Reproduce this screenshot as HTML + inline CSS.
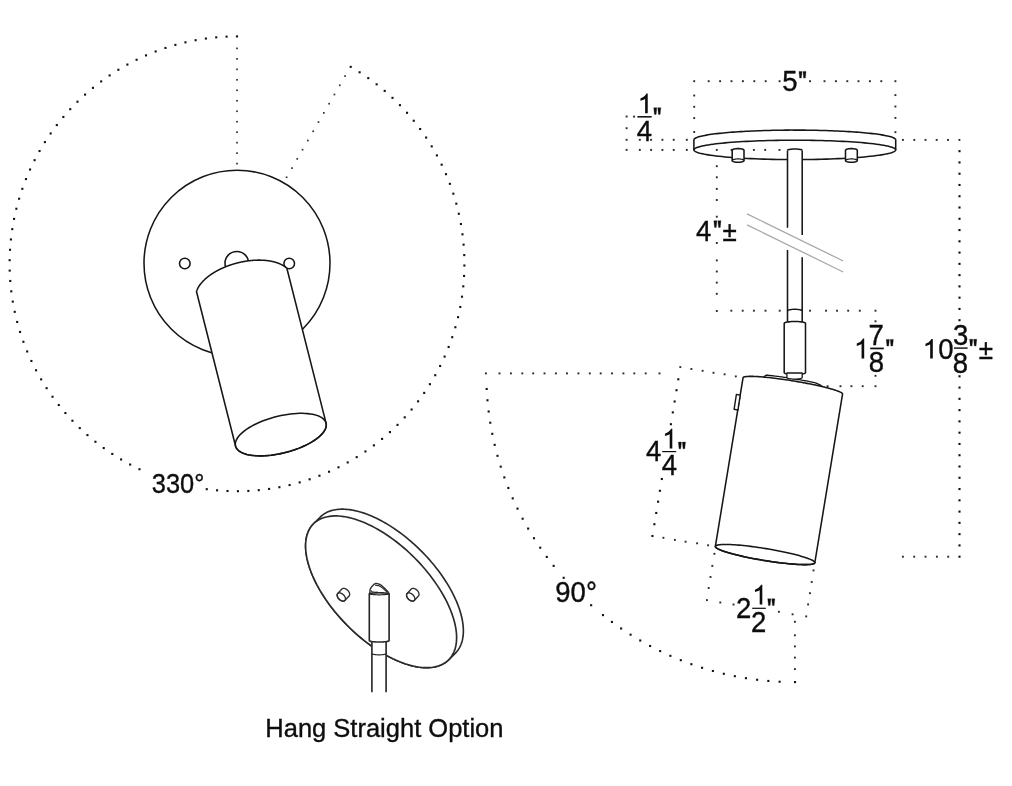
<!DOCTYPE html>
<html><head><meta charset="utf-8"><style>
html,body{margin:0;padding:0;background:#fff;}
svg{display:block;font-family:"Liberation Sans",sans-serif;will-change:transform;}
</style></head><body>
<svg width="1012" height="786" viewBox="0 0 1012 786">
<rect width="1012" height="786" fill="#fff"/>
<rect x="235.95" y="35.35" width="2.10" height="2.10" fill="#111"/>
<rect x="225.55" y="35.59" width="2.10" height="2.10" fill="#111"/>
<rect x="215.18" y="36.30" width="2.10" height="2.10" fill="#111"/>
<rect x="204.85" y="37.49" width="2.10" height="2.10" fill="#111"/>
<rect x="194.58" y="39.14" width="2.10" height="2.10" fill="#111"/>
<rect x="184.40" y="41.27" width="2.10" height="2.10" fill="#111"/>
<rect x="174.33" y="43.86" width="2.10" height="2.10" fill="#111"/>
<rect x="164.39" y="46.90" width="2.10" height="2.10" fill="#111"/>
<rect x="154.60" y="50.40" width="2.10" height="2.10" fill="#111"/>
<rect x="144.97" y="54.34" width="2.10" height="2.10" fill="#111"/>
<rect x="135.54" y="58.72" width="2.10" height="2.10" fill="#111"/>
<rect x="126.32" y="63.52" width="2.10" height="2.10" fill="#111"/>
<rect x="117.32" y="68.74" width="2.10" height="2.10" fill="#111"/>
<rect x="108.58" y="74.37" width="2.10" height="2.10" fill="#111"/>
<rect x="100.10" y="80.39" width="2.10" height="2.10" fill="#111"/>
<rect x="91.90" y="86.79" width="2.10" height="2.10" fill="#111"/>
<rect x="84.01" y="93.56" width="2.10" height="2.10" fill="#111"/>
<rect x="76.43" y="100.68" width="2.10" height="2.10" fill="#111"/>
<rect x="69.19" y="108.15" width="2.10" height="2.10" fill="#111"/>
<rect x="62.30" y="115.93" width="2.10" height="2.10" fill="#111"/>
<rect x="55.77" y="124.02" width="2.10" height="2.10" fill="#111"/>
<rect x="49.61" y="132.41" width="2.10" height="2.10" fill="#111"/>
<rect x="43.85" y="141.06" width="2.10" height="2.10" fill="#111"/>
<rect x="38.49" y="149.97" width="2.10" height="2.10" fill="#111"/>
<rect x="33.54" y="159.12" width="2.10" height="2.10" fill="#111"/>
<rect x="29.01" y="168.48" width="2.10" height="2.10" fill="#111"/>
<rect x="24.92" y="178.04" width="2.10" height="2.10" fill="#111"/>
<rect x="21.27" y="187.78" width="2.10" height="2.10" fill="#111"/>
<rect x="18.06" y="197.67" width="2.10" height="2.10" fill="#111"/>
<rect x="15.31" y="207.70" width="2.10" height="2.10" fill="#111"/>
<rect x="13.03" y="217.84" width="2.10" height="2.10" fill="#111"/>
<rect x="11.21" y="228.08" width="2.10" height="2.10" fill="#111"/>
<rect x="9.86" y="238.39" width="2.10" height="2.10" fill="#111"/>
<rect x="8.98" y="248.75" width="2.10" height="2.10" fill="#111"/>
<rect x="8.58" y="259.14" width="2.10" height="2.10" fill="#111"/>
<rect x="8.65" y="269.54" width="2.10" height="2.10" fill="#111"/>
<rect x="9.20" y="279.93" width="2.10" height="2.10" fill="#111"/>
<rect x="10.22" y="290.28" width="2.10" height="2.10" fill="#111"/>
<rect x="11.72" y="300.57" width="2.10" height="2.10" fill="#111"/>
<rect x="13.68" y="310.78" width="2.10" height="2.10" fill="#111"/>
<rect x="16.11" y="320.89" width="2.10" height="2.10" fill="#111"/>
<rect x="19.00" y="330.88" width="2.10" height="2.10" fill="#111"/>
<rect x="22.34" y="340.73" width="2.10" height="2.10" fill="#111"/>
<rect x="26.13" y="350.41" width="2.10" height="2.10" fill="#111"/>
<rect x="30.35" y="359.91" width="2.10" height="2.10" fill="#111"/>
<rect x="35.01" y="369.21" width="2.10" height="2.10" fill="#111"/>
<rect x="40.09" y="378.29" width="2.10" height="2.10" fill="#111"/>
<rect x="45.57" y="387.12" width="2.10" height="2.10" fill="#111"/>
<rect x="51.46" y="395.69" width="2.10" height="2.10" fill="#111"/>
<rect x="57.73" y="403.99" width="2.10" height="2.10" fill="#111"/>
<rect x="64.37" y="411.99" width="2.10" height="2.10" fill="#111"/>
<rect x="71.38" y="419.68" width="2.10" height="2.10" fill="#111"/>
<rect x="78.72" y="427.04" width="2.10" height="2.10" fill="#111"/>
<rect x="86.40" y="434.05" width="2.10" height="2.10" fill="#111"/>
<rect x="94.38" y="440.71" width="2.10" height="2.10" fill="#111"/>
<rect x="102.67" y="447.00" width="2.10" height="2.10" fill="#111"/>
<rect x="111.23" y="452.90" width="2.10" height="2.10" fill="#111"/>
<rect x="120.06" y="458.40" width="2.10" height="2.10" fill="#111"/>
<rect x="129.12" y="463.49" width="2.10" height="2.10" fill="#111"/>
<rect x="138.41" y="468.17" width="2.10" height="2.10" fill="#111"/>
<rect x="205.68" y="488.13" width="2.10" height="2.10" fill="#111"/>
<rect x="216.04" y="489.28" width="2.10" height="2.10" fill="#111"/>
<rect x="226.45" y="489.95" width="2.10" height="2.10" fill="#111"/>
<rect x="236.87" y="490.15" width="2.10" height="2.10" fill="#111"/>
<rect x="247.30" y="489.87" width="2.10" height="2.10" fill="#111"/>
<rect x="257.70" y="489.11" width="2.10" height="2.10" fill="#111"/>
<rect x="268.05" y="487.87" width="2.10" height="2.10" fill="#111"/>
<rect x="278.34" y="486.16" width="2.10" height="2.10" fill="#111"/>
<rect x="288.53" y="483.99" width="2.10" height="2.10" fill="#111"/>
<rect x="298.62" y="481.34" width="2.10" height="2.10" fill="#111"/>
<rect x="308.58" y="478.24" width="2.10" height="2.10" fill="#111"/>
<rect x="318.38" y="474.68" width="2.10" height="2.10" fill="#111"/>
<rect x="328.01" y="470.68" width="2.10" height="2.10" fill="#111"/>
<rect x="337.44" y="466.24" width="2.10" height="2.10" fill="#111"/>
<rect x="346.66" y="461.38" width="2.10" height="2.10" fill="#111"/>
<rect x="355.65" y="456.09" width="2.10" height="2.10" fill="#111"/>
<rect x="364.39" y="450.40" width="2.10" height="2.10" fill="#111"/>
<rect x="372.86" y="444.32" width="2.10" height="2.10" fill="#111"/>
<rect x="381.04" y="437.85" width="2.10" height="2.10" fill="#111"/>
<rect x="388.91" y="431.02" width="2.10" height="2.10" fill="#111"/>
<rect x="396.47" y="423.83" width="2.10" height="2.10" fill="#111"/>
<rect x="403.68" y="416.30" width="2.10" height="2.10" fill="#111"/>
<rect x="410.54" y="408.45" width="2.10" height="2.10" fill="#111"/>
<rect x="417.04" y="400.29" width="2.10" height="2.10" fill="#111"/>
<rect x="423.15" y="391.84" width="2.10" height="2.10" fill="#111"/>
<rect x="428.87" y="383.13" width="2.10" height="2.10" fill="#111"/>
<rect x="434.19" y="374.16" width="2.10" height="2.10" fill="#111"/>
<rect x="439.09" y="364.95" width="2.10" height="2.10" fill="#111"/>
<rect x="443.56" y="355.53" width="2.10" height="2.10" fill="#111"/>
<rect x="447.60" y="345.92" width="2.10" height="2.10" fill="#111"/>
<rect x="451.19" y="336.13" width="2.10" height="2.10" fill="#111"/>
<rect x="454.32" y="326.18" width="2.10" height="2.10" fill="#111"/>
<rect x="457.00" y="316.11" width="2.10" height="2.10" fill="#111"/>
<rect x="459.22" y="305.92" width="2.10" height="2.10" fill="#111"/>
<rect x="460.96" y="295.64" width="2.10" height="2.10" fill="#111"/>
<rect x="462.23" y="285.29" width="2.10" height="2.10" fill="#111"/>
<rect x="463.03" y="274.89" width="2.10" height="2.10" fill="#111"/>
<rect x="463.34" y="264.47" width="2.10" height="2.10" fill="#111"/>
<rect x="463.18" y="254.04" width="2.10" height="2.10" fill="#111"/>
<rect x="462.54" y="243.63" width="2.10" height="2.10" fill="#111"/>
<rect x="461.43" y="233.27" width="2.10" height="2.10" fill="#111"/>
<rect x="459.84" y="222.96" width="2.10" height="2.10" fill="#111"/>
<rect x="457.78" y="212.74" width="2.10" height="2.10" fill="#111"/>
<rect x="455.26" y="202.62" width="2.10" height="2.10" fill="#111"/>
<rect x="452.27" y="192.63" width="2.10" height="2.10" fill="#111"/>
<rect x="448.83" y="182.79" width="2.10" height="2.10" fill="#111"/>
<rect x="444.94" y="173.11" width="2.10" height="2.10" fill="#111"/>
<rect x="440.61" y="163.63" width="2.10" height="2.10" fill="#111"/>
<rect x="435.85" y="154.35" width="2.10" height="2.10" fill="#111"/>
<rect x="430.67" y="145.30" width="2.10" height="2.10" fill="#111"/>
<rect x="425.08" y="136.50" width="2.10" height="2.10" fill="#111"/>
<rect x="419.09" y="127.96" width="2.10" height="2.10" fill="#111"/>
<rect x="412.72" y="119.70" width="2.10" height="2.10" fill="#111"/>
<rect x="405.98" y="111.75" width="2.10" height="2.10" fill="#111"/>
<rect x="398.88" y="104.12" width="2.10" height="2.10" fill="#111"/>
<rect x="391.44" y="96.81" width="2.10" height="2.10" fill="#111"/>
<rect x="383.66" y="89.86" width="2.10" height="2.10" fill="#111"/>
<rect x="375.58" y="83.27" width="2.10" height="2.10" fill="#111"/>
<rect x="367.21" y="77.06" width="2.10" height="2.10" fill="#111"/>
<rect x="358.56" y="71.24" width="2.10" height="2.10" fill="#111"/>
<rect x="349.65" y="65.82" width="2.10" height="2.10" fill="#111"/>
<rect x="236.15" y="47.55" width="1.70" height="1.70" fill="#333"/>
<rect x="236.15" y="58.02" width="1.70" height="1.70" fill="#333"/>
<rect x="236.15" y="68.50" width="1.70" height="1.70" fill="#333"/>
<rect x="236.15" y="78.97" width="1.70" height="1.70" fill="#333"/>
<rect x="236.15" y="89.44" width="1.70" height="1.70" fill="#333"/>
<rect x="236.15" y="99.91" width="1.70" height="1.70" fill="#333"/>
<rect x="236.15" y="110.39" width="1.70" height="1.70" fill="#333"/>
<rect x="236.15" y="120.86" width="1.70" height="1.70" fill="#333"/>
<rect x="236.15" y="131.33" width="1.70" height="1.70" fill="#333"/>
<rect x="236.15" y="141.80" width="1.70" height="1.70" fill="#333"/>
<rect x="236.15" y="152.28" width="1.70" height="1.70" fill="#333"/>
<rect x="236.15" y="162.75" width="1.70" height="1.70" fill="#333"/>
<rect x="344.23" y="75.25" width="1.70" height="1.70" fill="#333"/>
<rect x="338.92" y="84.45" width="1.70" height="1.70" fill="#333"/>
<rect x="333.60" y="93.65" width="1.70" height="1.70" fill="#333"/>
<rect x="328.28" y="102.85" width="1.70" height="1.70" fill="#333"/>
<rect x="322.97" y="112.05" width="1.70" height="1.70" fill="#333"/>
<rect x="317.65" y="121.25" width="1.70" height="1.70" fill="#333"/>
<rect x="312.33" y="130.45" width="1.70" height="1.70" fill="#333"/>
<rect x="307.02" y="139.65" width="1.70" height="1.70" fill="#333"/>
<rect x="301.70" y="148.85" width="1.70" height="1.70" fill="#333"/>
<rect x="296.38" y="158.05" width="1.70" height="1.70" fill="#333"/>
<rect x="291.07" y="167.25" width="1.70" height="1.70" fill="#333"/>
<rect x="285.75" y="176.45" width="1.70" height="1.70" fill="#333"/>
<circle cx="237" cy="263.2" r="93" fill="none" stroke="#161616" stroke-width="1.55"/>
<circle cx="184.8" cy="263.5" r="5.3" fill="none" stroke="#161616" stroke-width="1.55"/>
<circle cx="289.2" cy="263.5" r="5.3" fill="none" stroke="#161616" stroke-width="1.55"/>
<circle cx="236.8" cy="263.2" r="11.8" fill="none" stroke="#161616" stroke-width="1.55"/>
<polygon points="196.47,291.50 196.51,291.38 196.54,291.26 196.58,291.14 196.62,291.02 196.67,290.90 196.71,290.79 196.75,290.67 196.80,290.55 196.84,290.43 196.89,290.31 196.93,290.19 196.98,290.07 197.03,289.95 197.08,289.83 197.13,289.72 197.18,289.60 197.23,289.48 197.29,289.36 197.34,289.24 197.39,289.12 197.45,289.00 197.51,288.88 197.56,288.76 197.62,288.64 197.68,288.52 197.74,288.40 197.80,288.28 197.87,288.16 197.93,288.04 197.99,287.92 198.06,287.80 198.12,287.69 198.19,287.57 198.25,287.45 198.32,287.33 198.39,287.21 198.46,287.09 198.53,286.97 198.60,286.85 198.67,286.73 198.75,286.61 198.82,286.49 198.90,286.37 198.97,286.25 199.05,286.13 199.13,286.01 199.20,285.89 199.28,285.77 199.36,285.65 199.44,285.53 199.53,285.42 199.61,285.30 199.69,285.18 199.78,285.06 199.86,284.94 199.95,284.82 200.03,284.70 200.12,284.58 200.21,284.46 200.30,284.34 200.39,284.23 200.48,284.11 200.57,283.99 200.66,283.87 200.76,283.75 200.85,283.63 200.94,283.51 201.04,283.40 201.14,283.28 201.23,283.16 201.33,283.04 201.43,282.92 201.53,282.81 201.63,282.69 201.73,282.57 201.83,282.45 201.94,282.34 202.04,282.22 202.14,282.10 202.25,281.98 202.36,281.87 202.46,281.75 202.57,281.63 202.68,281.52 202.79,281.40 202.90,281.28 203.01,281.17 203.12,281.05 203.23,280.93 203.35,280.82 203.46,280.70 203.57,280.59 203.69,280.47 203.81,280.36 203.92,280.24 204.04,280.13 204.16,280.01 204.28,279.90 204.40,279.78 204.52,279.67 204.64,279.55 204.76,279.44 204.89,279.32 205.01,279.21 205.13,279.10 205.26,278.98 205.38,278.87 205.51,278.76 205.64,278.64 205.77,278.53 205.89,278.42 206.02,278.30 206.15,278.19 206.29,278.08 206.42,277.97 206.55,277.85 206.68,277.74 206.82,277.63 206.95,277.52 207.09,277.41 207.22,277.30 207.36,277.19 207.49,277.08 207.63,276.97 207.77,276.86 207.91,276.75 208.05,276.64 208.19,276.53 208.33,276.42 208.47,276.31 208.62,276.20 208.76,276.09 208.90,275.98 209.05,275.87 209.19,275.76 209.34,275.66 209.49,275.55 209.63,275.44 209.78,275.33 209.93,275.23 210.08,275.12 210.23,275.01 210.38,274.91 210.53,274.80 210.68,274.70 210.84,274.59 210.99,274.49 211.14,274.38 211.30,274.28 211.45,274.17 211.61,274.07 211.76,273.96 211.92,273.86 212.08,273.76 212.23,273.65 212.39,273.55 212.55,273.45 212.71,273.34 212.87,273.24 213.03,273.14 213.19,273.04 213.36,272.94 213.52,272.84 213.68,272.74 213.85,272.63 214.01,272.53 214.17,272.43 214.34,272.34 214.51,272.24 214.67,272.14 214.84,272.04 215.01,271.94 215.18,271.84 215.34,271.74 215.51,271.65 215.68,271.55 215.85,271.45 216.02,271.35 216.20,271.26 216.37,271.16 216.54,271.07 216.71,270.97 216.89,270.88 217.06,270.78 217.24,270.69 217.41,270.59 217.59,270.50 217.76,270.41 217.94,270.31 218.12,270.22 218.29,270.13 218.47,270.03 218.65,269.94 218.83,269.85 219.01,269.76 219.19,269.67 219.37,269.58 219.55,269.49 219.73,269.40 219.91,269.31 220.09,269.22 220.28,269.13 220.46,269.04 220.64,268.95 220.83,268.87 221.01,268.78 221.20,268.69 221.38,268.61 221.57,268.52 221.75,268.43 221.94,268.35 222.13,268.26 222.31,268.18 222.50,268.09 222.69,268.01 222.88,267.93 223.07,267.84 223.26,267.76 223.45,267.68 223.64,267.59 223.83,267.51 224.02,267.43 224.21,267.35 224.40,267.27 224.59,267.19 224.78,267.11 224.98,267.03 225.17,266.95 225.36,266.87 225.56,266.79 225.75,266.72 225.95,266.64 226.14,266.56 226.34,266.48 226.53,266.41 226.73,266.33 226.92,266.26 227.12,266.18 227.32,266.11 227.51,266.03 227.71,265.96 227.91,265.88 228.11,265.81 228.31,265.74 228.50,265.67 228.70,265.59 228.90,265.52 229.10,265.45 229.30,265.38 229.50,265.31 229.70,265.24 229.90,265.17 230.10,265.10 230.30,265.03 230.50,264.97 230.71,264.90 230.91,264.83 231.11,264.76 231.31,264.70 231.51,264.63 231.72,264.57 231.92,264.50 232.12,264.44 232.33,264.37 232.53,264.31 232.73,264.25 232.94,264.18 233.14,264.12 233.35,264.06 233.55,264.00 233.76,263.94 233.96,263.88 234.17,263.82 234.37,263.76 234.58,263.70 234.78,263.64 234.99,263.58 235.20,263.52 235.40,263.46 235.61,263.41 235.81,263.35 236.02,263.30 236.23,263.24 236.43,263.18 236.64,263.13 236.85,263.08 237.06,263.02 237.26,262.97 237.47,262.92 237.68,262.86 237.89,262.81 238.10,262.76 238.30,262.71 238.51,262.66 238.72,262.61 238.93,262.56 239.14,262.51 239.35,262.46 239.55,262.41 239.76,262.37 239.97,262.32 240.18,262.27 240.39,262.23 240.60,262.18 240.81,262.14 241.02,262.09 241.23,262.05 241.43,262.00 241.64,261.96 241.85,261.92 242.06,261.87 242.27,261.83 242.48,261.79 242.69,261.75 242.90,261.71 243.11,261.67 243.32,261.63 243.53,261.59 243.74,261.55 243.95,261.52 244.16,261.48 244.37,261.44 244.58,261.41 244.79,261.37 244.99,261.33 245.20,261.30 245.41,261.27 245.62,261.23 245.83,261.20 246.04,261.17 246.25,261.13 246.46,261.10 246.67,261.07 246.88,261.04 247.09,261.01 247.30,260.98 247.50,260.95 247.71,260.92 247.92,260.89 248.13,260.86 248.34,260.84 248.55,260.81 248.76,260.78 248.96,260.76 249.17,260.73 249.38,260.71 249.59,260.68 249.80,260.66 250.00,260.64 250.21,260.61 250.42,260.59 250.63,260.57 250.83,260.55 251.04,260.53 251.25,260.51 251.45,260.49 251.66,260.47 251.87,260.45 252.07,260.43 252.28,260.42 252.49,260.40 252.69,260.38 252.90,260.37 253.10,260.35 253.31,260.34 253.51,260.32 253.72,260.31 253.92,260.29 254.13,260.28 254.33,260.27 254.54,260.26 254.74,260.25 254.94,260.23 255.15,260.22 255.35,260.21 255.55,260.20 255.76,260.20 255.96,260.19 256.16,260.18 256.36,260.17 256.57,260.17 256.77,260.16 256.97,260.15 257.17,260.15 257.37,260.14 257.57,260.14 257.77,260.14 257.97,260.13 258.17,260.13 258.37,260.13 258.57,260.13 258.77,260.13 258.97,260.13 259.17,260.13 259.36,260.13 259.56,260.13 259.76,260.13 259.96,260.13 260.15,260.14 260.35,260.14 260.55,260.14 260.74,260.15 260.94,260.15 261.13,260.16 261.33,260.16 261.52,260.17 261.72,260.18 261.91,260.18 262.11,260.19 262.30,260.20 262.49,260.21 262.68,260.22 262.88,260.23 263.07,260.24 263.26,260.25 263.45,260.26 263.64,260.27 263.83,260.29 264.02,260.30 264.21,260.31 264.40,260.33 264.59,260.34 264.78,260.36 264.97,260.37 265.15,260.39 265.34,260.41 265.53,260.42 265.71,260.44 265.90,260.46 266.09,260.48 266.27,260.50 266.46,260.52 266.64,260.54 266.82,260.56 267.01,260.58 267.19,260.60 267.37,260.62 267.55,260.65 267.74,260.67 267.92,260.69 268.10,260.72 268.28,260.74 268.46,260.77 268.64,260.79 268.82,260.82 268.99,260.85 269.17,260.88 269.35,260.90 269.53,260.93 269.70,260.96 269.88,260.99 270.05,261.02 270.23,261.05 270.40,261.08 270.58,261.11 270.75,261.15 270.92,261.18 271.09,261.21 271.27,261.25 271.44,261.28 271.61,261.31 271.78,261.35 271.95,261.38 272.12,261.42 272.29,261.46 272.45,261.49 272.62,261.53 272.79,261.57 272.95,261.61 273.12,261.65 273.29,261.69 273.45,261.73 273.61,261.77 273.78,261.81 273.94,261.85 274.10,261.89 274.26,261.93 274.43,261.98 274.59,262.02 274.75,262.06 274.91,262.11 275.06,262.15 275.22,262.20 275.38,262.25 275.54,262.29 275.69,262.34 275.85,262.39 276.01,262.43 276.16,262.48 276.31,262.53 276.47,262.58 276.62,262.63 276.77,262.68 276.92,262.73 277.07,262.78 277.22,262.83 277.37,262.88 277.52,262.94 277.67,262.99 277.82,263.04 277.97,263.10 278.11,263.15 278.26,263.21 278.40,263.26 278.55,263.32 278.69,263.37 278.83,263.43 278.98,263.49 279.12,263.55 279.26,263.60 279.40,263.66 279.54,263.72 279.68,263.78 279.82,263.84 279.96,263.90 280.09,263.96 280.23,264.02 280.36,264.08 280.50,264.15 280.63,264.21 280.77,264.27 280.90,264.34 281.03,264.40 281.16,264.46 281.29,264.53 281.42,264.59 281.55,264.66 281.68,264.73 281.81,264.79 281.94,264.86 282.06,264.93 282.19,264.99 282.31,265.06 282.44,265.13 282.56,265.20 282.68,265.27 282.80,265.34 282.93,265.41 283.05,265.48 283.17,265.55 283.28,265.62 283.40,265.70 283.52,265.77 283.64,265.84 283.75,265.91 283.87,265.99 283.98,266.06 284.10,266.14 284.21,266.21 284.32,266.29 284.43,266.36 284.54,266.44 284.65,266.52 284.76,266.59 284.87,266.67 284.98,266.75 285.08,266.83 285.19,266.90 285.29,266.98 285.40,267.06 285.50,267.14 285.60,267.22 285.70,267.30 285.81,267.38 285.91,267.46 286.01,267.55 286.10,267.63 286.20,267.71 286.30,267.79 286.40,267.88 286.49,267.96 286.58,268.04 286.68,268.13 286.77,268.21 286.86,268.30 326.07,423.14 326.25,424.10 326.30,425.08 326.23,426.09 326.03,427.12 325.71,428.18 325.26,429.25 324.69,430.33 324.00,431.43 323.20,432.53 322.28,433.65 321.24,434.76 320.09,435.87 318.84,436.98 317.48,438.09 316.02,439.18 314.47,440.26 312.82,441.33 311.08,442.38 309.26,443.40 307.37,444.40 305.40,445.38 303.36,446.32 301.26,447.24 299.11,448.12 296.90,448.96 294.65,449.76 292.36,450.52 290.05,451.24 287.70,451.91 285.34,452.53 282.96,453.11 280.58,453.63 278.20,454.11 275.83,454.52 273.47,454.89 271.13,455.20 268.81,455.45 266.53,455.64 264.29,455.78 262.09,455.86 259.95,455.88 257.86,455.84 255.84,455.75 253.88,455.59 252.00,455.38 250.19,455.11 248.47,454.79 246.84,454.41 245.30,453.98 243.86,453.49 242.52,452.95 241.29,452.36 240.16,451.72 239.15,451.04 238.24,450.31 237.46,449.53 236.79,448.72 236.25,447.87 235.83,446.98 235.53,446.06" fill="#fff" stroke="#161616" stroke-width="1.55" stroke-linejoin="round"/>
<polygon points="326.07,423.14 326.28,424.42 326.26,425.75 326.03,427.12 325.57,428.53 324.89,429.97 324.00,431.43 322.90,432.90 321.60,434.39 320.09,435.87 318.40,437.35 316.52,438.82 314.47,440.26 312.25,441.68 309.88,443.06 307.37,444.40 304.73,445.70 301.97,446.94 299.11,448.12 296.16,449.23 293.13,450.27 290.05,451.24 286.92,452.12 283.76,452.92 280.58,453.63 277.41,454.25 274.25,454.77 271.13,455.20 268.05,455.52 265.03,455.74 262.09,455.86 259.25,455.87 256.50,455.79 253.88,455.59 251.39,455.30 249.04,454.90 246.84,454.41 244.81,453.82 242.96,453.13 241.29,452.36 239.81,451.50 238.53,450.56 237.46,449.53 236.60,448.44 235.95,447.28 235.53,446.06 235.32,444.78 235.34,443.45 235.57,442.08 236.03,440.67 236.71,439.23 237.60,437.77 238.70,436.30 240.00,434.81 241.51,433.33 243.20,431.85 245.08,430.38 247.13,428.94 249.35,427.52 251.72,426.14 254.23,424.80 256.87,423.50 259.63,422.26 262.49,421.08 265.44,419.97 268.47,418.93 271.55,417.96 274.68,417.08 277.84,416.28 281.02,415.57 284.19,414.95 287.35,414.43 290.47,414.00 293.55,413.68 296.57,413.46 299.51,413.34 302.35,413.33 305.10,413.41 307.72,413.61 310.21,413.90 312.56,414.30 314.76,414.79 316.79,415.38 318.64,416.07 320.31,416.84 321.79,417.70 323.07,418.64 324.14,419.67 325.00,420.76 325.65,421.92 326.07,423.14" fill="none" stroke="#161616" stroke-width="1.55" stroke-linejoin="round"/>
<rect x="693.25" y="80.25" width="1.90" height="1.90" fill="#2a2a2a"/>
<rect x="707.75" y="80.25" width="1.90" height="1.90" fill="#2a2a2a"/>
<rect x="719.15" y="80.25" width="1.90" height="1.90" fill="#2a2a2a"/>
<rect x="730.55" y="80.25" width="1.90" height="1.90" fill="#2a2a2a"/>
<rect x="741.95" y="80.25" width="1.90" height="1.90" fill="#2a2a2a"/>
<rect x="753.35" y="80.25" width="1.90" height="1.90" fill="#2a2a2a"/>
<rect x="764.75" y="80.25" width="1.90" height="1.90" fill="#2a2a2a"/>
<rect x="778.65" y="80.25" width="1.90" height="1.90" fill="#2a2a2a"/>
<rect x="809.05" y="80.25" width="1.90" height="1.90" fill="#2a2a2a"/>
<rect x="823.55" y="80.25" width="1.90" height="1.90" fill="#2a2a2a"/>
<rect x="834.95" y="80.25" width="1.90" height="1.90" fill="#2a2a2a"/>
<rect x="846.35" y="80.25" width="1.90" height="1.90" fill="#2a2a2a"/>
<rect x="857.55" y="80.25" width="1.90" height="1.90" fill="#2a2a2a"/>
<rect x="868.95" y="80.25" width="1.90" height="1.90" fill="#2a2a2a"/>
<rect x="880.35" y="80.25" width="1.90" height="1.90" fill="#2a2a2a"/>
<rect x="894.45" y="80.25" width="1.90" height="1.90" fill="#2a2a2a"/>
<rect x="693.25" y="94.55" width="1.90" height="1.90" fill="#2a2a2a"/>
<rect x="693.25" y="105.85" width="1.90" height="1.90" fill="#2a2a2a"/>
<rect x="693.25" y="117.15" width="1.90" height="1.90" fill="#2a2a2a"/>
<rect x="693.25" y="131.05" width="1.90" height="1.90" fill="#2a2a2a"/>
<rect x="894.45" y="94.15" width="1.90" height="1.90" fill="#2a2a2a"/>
<rect x="894.45" y="105.55" width="1.90" height="1.90" fill="#2a2a2a"/>
<rect x="894.45" y="116.95" width="1.90" height="1.90" fill="#2a2a2a"/>
<rect x="894.45" y="131.25" width="1.90" height="1.90" fill="#2a2a2a"/>
<rect x="625.65" y="138.85" width="1.90" height="1.90" fill="#2a2a2a"/>
<rect x="638.85" y="138.85" width="1.90" height="1.90" fill="#2a2a2a"/>
<rect x="650.15" y="138.85" width="1.90" height="1.90" fill="#2a2a2a"/>
<rect x="661.45" y="138.85" width="1.90" height="1.90" fill="#2a2a2a"/>
<rect x="672.75" y="138.85" width="1.90" height="1.90" fill="#2a2a2a"/>
<rect x="685.85" y="138.85" width="1.90" height="1.90" fill="#2a2a2a"/>
<rect x="625.65" y="115.55" width="1.90" height="1.90" fill="#2a2a2a"/>
<rect x="625.65" y="127.25" width="1.90" height="1.90" fill="#2a2a2a"/>
<rect x="633.15" y="115.65" width="1.90" height="1.90" fill="#2a2a2a"/>
<rect x="901.95" y="138.95" width="1.90" height="1.90" fill="#2a2a2a"/>
<rect x="913.35" y="138.95" width="1.90" height="1.90" fill="#2a2a2a"/>
<rect x="924.55" y="138.95" width="1.90" height="1.90" fill="#2a2a2a"/>
<rect x="935.75" y="138.95" width="1.90" height="1.90" fill="#2a2a2a"/>
<rect x="947.05" y="138.95" width="1.90" height="1.90" fill="#2a2a2a"/>
<rect x="958.45" y="138.95" width="1.90" height="1.90" fill="#2a2a2a"/>
<rect x="958.45" y="150.12" width="2.10" height="2.10" fill="#0d0d0d"/>
<rect x="958.45" y="161.39" width="2.10" height="2.10" fill="#0d0d0d"/>
<rect x="958.45" y="172.66" width="2.10" height="2.10" fill="#0d0d0d"/>
<rect x="958.45" y="183.92" width="2.10" height="2.10" fill="#0d0d0d"/>
<rect x="958.45" y="195.19" width="2.10" height="2.10" fill="#0d0d0d"/>
<rect x="958.45" y="206.46" width="2.10" height="2.10" fill="#0d0d0d"/>
<rect x="958.45" y="217.73" width="2.10" height="2.10" fill="#0d0d0d"/>
<rect x="958.45" y="229.00" width="2.10" height="2.10" fill="#0d0d0d"/>
<rect x="958.45" y="240.27" width="2.10" height="2.10" fill="#0d0d0d"/>
<rect x="958.45" y="251.54" width="2.10" height="2.10" fill="#0d0d0d"/>
<rect x="958.45" y="262.81" width="2.10" height="2.10" fill="#0d0d0d"/>
<rect x="958.45" y="274.07" width="2.10" height="2.10" fill="#0d0d0d"/>
<rect x="958.45" y="285.34" width="2.10" height="2.10" fill="#0d0d0d"/>
<rect x="958.45" y="296.61" width="2.10" height="2.10" fill="#0d0d0d"/>
<rect x="958.45" y="307.88" width="2.10" height="2.10" fill="#0d0d0d"/>
<rect x="958.45" y="319.15" width="2.10" height="2.10" fill="#0d0d0d"/>
<rect x="958.45" y="375.25" width="2.10" height="2.10" fill="#0d0d0d"/>
<rect x="958.45" y="386.52" width="2.10" height="2.10" fill="#0d0d0d"/>
<rect x="958.45" y="397.80" width="2.10" height="2.10" fill="#0d0d0d"/>
<rect x="958.45" y="409.07" width="2.10" height="2.10" fill="#0d0d0d"/>
<rect x="958.45" y="420.35" width="2.10" height="2.10" fill="#0d0d0d"/>
<rect x="958.45" y="431.62" width="2.10" height="2.10" fill="#0d0d0d"/>
<rect x="958.45" y="442.90" width="2.10" height="2.10" fill="#0d0d0d"/>
<rect x="958.45" y="454.18" width="2.10" height="2.10" fill="#0d0d0d"/>
<rect x="958.45" y="465.45" width="2.10" height="2.10" fill="#0d0d0d"/>
<rect x="958.45" y="476.73" width="2.10" height="2.10" fill="#0d0d0d"/>
<rect x="958.45" y="488.00" width="2.10" height="2.10" fill="#0d0d0d"/>
<rect x="958.45" y="499.28" width="2.10" height="2.10" fill="#0d0d0d"/>
<rect x="958.45" y="510.55" width="2.10" height="2.10" fill="#0d0d0d"/>
<rect x="958.45" y="521.83" width="2.10" height="2.10" fill="#0d0d0d"/>
<rect x="958.45" y="533.10" width="2.10" height="2.10" fill="#0d0d0d"/>
<rect x="958.45" y="544.38" width="2.10" height="2.10" fill="#0d0d0d"/>
<rect x="958.45" y="555.65" width="2.10" height="2.10" fill="#0d0d0d"/>
<rect x="901.95" y="555.75" width="1.90" height="1.90" fill="#2a2a2a"/>
<rect x="913.25" y="555.75" width="1.90" height="1.90" fill="#2a2a2a"/>
<rect x="924.55" y="555.75" width="1.90" height="1.90" fill="#2a2a2a"/>
<rect x="935.95" y="555.75" width="1.90" height="1.90" fill="#2a2a2a"/>
<rect x="947.25" y="555.75" width="1.90" height="1.90" fill="#2a2a2a"/>
<rect x="715.85" y="165.25" width="1.90" height="1.90" fill="#2a2a2a"/>
<rect x="715.85" y="176.35" width="1.90" height="1.90" fill="#2a2a2a"/>
<rect x="715.85" y="187.95" width="1.90" height="1.90" fill="#2a2a2a"/>
<rect x="715.85" y="199.05" width="1.90" height="1.90" fill="#2a2a2a"/>
<rect x="715.85" y="215.75" width="1.90" height="1.90" fill="#2a2a2a"/>
<rect x="715.85" y="242.05" width="1.90" height="1.90" fill="#2a2a2a"/>
<rect x="715.85" y="259.45" width="1.90" height="1.90" fill="#2a2a2a"/>
<rect x="715.85" y="270.55" width="1.90" height="1.90" fill="#2a2a2a"/>
<rect x="715.85" y="281.65" width="1.90" height="1.90" fill="#2a2a2a"/>
<rect x="715.85" y="292.85" width="1.90" height="1.90" fill="#2a2a2a"/>
<rect x="715.85" y="310.05" width="1.90" height="1.90" fill="#2a2a2a"/>
<rect x="730.35" y="309.75" width="1.90" height="1.90" fill="#2a2a2a"/>
<rect x="741.75" y="309.75" width="1.90" height="1.90" fill="#2a2a2a"/>
<rect x="752.95" y="309.75" width="1.90" height="1.90" fill="#2a2a2a"/>
<rect x="764.55" y="309.75" width="1.90" height="1.90" fill="#2a2a2a"/>
<rect x="778.75" y="309.75" width="1.90" height="1.90" fill="#2a2a2a"/>
<rect x="790.05" y="309.75" width="1.90" height="1.90" fill="#2a2a2a"/>
<rect x="809.05" y="309.75" width="1.90" height="1.90" fill="#2a2a2a"/>
<rect x="825.05" y="309.75" width="1.90" height="1.90" fill="#2a2a2a"/>
<rect x="836.05" y="309.75" width="1.90" height="1.90" fill="#2a2a2a"/>
<rect x="847.25" y="309.75" width="1.90" height="1.90" fill="#2a2a2a"/>
<rect x="858.85" y="309.75" width="1.90" height="1.90" fill="#2a2a2a"/>
<rect x="874.55" y="309.75" width="1.90" height="1.90" fill="#2a2a2a"/>
<rect x="874.55" y="320.35" width="1.90" height="1.90" fill="#2a2a2a"/>
<rect x="874.55" y="374.85" width="1.90" height="1.90" fill="#2a2a2a"/>
<rect x="874.55" y="385.25" width="1.90" height="1.90" fill="#2a2a2a"/>
<rect x="826.65" y="385.25" width="1.90" height="1.90" fill="#2a2a2a"/>
<rect x="839.55" y="385.25" width="1.90" height="1.90" fill="#2a2a2a"/>
<rect x="850.45" y="385.25" width="1.90" height="1.90" fill="#2a2a2a"/>
<rect x="861.75" y="385.25" width="1.90" height="1.90" fill="#2a2a2a"/>
<polygon points="895.70,149.90 895.60,150.34 895.29,150.77 894.79,151.20 894.08,151.63 893.17,152.06 892.06,152.48 890.76,152.90 889.27,153.31 887.58,153.71 885.71,154.11 883.65,154.50 881.42,154.88 879.01,155.24 876.43,155.60 873.69,155.95 870.78,156.28 867.73,156.60 864.53,156.91 861.19,157.20 857.71,157.48 854.11,157.75 850.39,158.00 846.55,158.23 842.61,158.44 838.58,158.64 834.46,158.82 830.25,158.98 825.98,159.13 821.64,159.25 817.25,159.36 812.82,159.44 808.34,159.51 803.84,159.56 799.33,159.59 794.80,159.60 790.27,159.59 785.76,159.56 781.26,159.51 776.78,159.44 772.35,159.36 767.96,159.25 763.62,159.13 759.35,158.98 755.14,158.82 751.02,158.64 746.99,158.44 743.05,158.23 739.21,158.00 735.49,157.75 731.89,157.48 728.41,157.20 725.07,156.91 721.87,156.60 718.82,156.28 715.91,155.95 713.17,155.60 710.59,155.24 708.18,154.88 705.95,154.50 703.89,154.11 702.02,153.71 700.33,153.31 698.84,152.90 697.54,152.48 696.43,152.06 695.52,151.63 694.81,151.20 694.31,150.77 694.00,150.34 693.90,149.90 694.00,149.46 694.31,149.03 694.81,148.60 695.52,148.17 696.43,147.74 697.54,147.32 698.84,146.90 700.33,146.49 702.02,146.09 703.89,145.69 705.95,145.30 708.18,144.92 710.59,144.56 713.17,144.20 715.91,143.85 718.82,143.52 721.87,143.20 725.07,142.89 728.41,142.60 731.89,142.32 735.49,142.05 739.21,141.80 743.05,141.57 746.99,141.36 751.02,141.16 755.14,140.98 759.35,140.82 763.62,140.67 767.96,140.55 772.35,140.44 776.78,140.36 781.26,140.29 785.76,140.24 790.27,140.21 794.80,140.20 799.33,140.21 803.84,140.24 808.34,140.29 812.82,140.36 817.25,140.44 821.64,140.55 825.98,140.67 830.25,140.82 834.46,140.98 838.58,141.16 842.61,141.36 846.55,141.57 850.39,141.80 854.11,142.05 857.71,142.32 861.19,142.60 864.53,142.89 867.73,143.20 870.78,143.52 873.69,143.85 876.43,144.20 879.01,144.56 881.42,144.92 883.65,145.30 885.71,145.69 887.58,146.09 889.27,146.49 890.76,146.90 892.06,147.32 893.17,147.74 894.08,148.17 894.79,148.60 895.29,149.03 895.60,149.46 895.70,149.90" fill="#fff" stroke="#161616" stroke-width="1.55" stroke-linejoin="round"/>
<polyline points="693.90,139.80 693.95,139.50 694.10,139.19 694.35,138.89 694.70,138.58 695.14,138.28 695.69,137.98 696.33,137.68 697.07,137.39 697.91,137.09 698.84,136.80 699.87,136.51 700.99,136.23 702.20,135.95 703.50,135.67 704.90,135.40 706.38,135.13 707.95,134.86 709.61,134.60 711.35,134.35 713.17,134.10 715.07,133.85 717.06,133.62 719.11,133.39 721.25,133.16 723.45,132.94 725.73,132.73 728.07,132.52 730.48,132.33 732.96,132.14 735.49,131.95 738.09,131.78 740.74,131.61 743.44,131.45 746.19,131.30 748.99,131.16 751.84,131.02 754.73,130.90 757.66,130.78 760.62,130.67 763.62,130.57 766.65,130.49 769.71,130.40 772.79,130.33 775.89,130.27 779.02,130.22 782.15,130.18 785.30,130.14 788.46,130.12 791.63,130.10 794.80,130.10 797.97,130.10 801.14,130.12 804.30,130.14 807.45,130.18 810.58,130.22 813.71,130.27 816.81,130.33 819.89,130.40 822.95,130.49 825.98,130.57 828.98,130.67 831.94,130.78 834.87,130.90 837.76,131.02 840.61,131.16 843.41,131.30 846.16,131.45 848.86,131.61 851.51,131.78 854.11,131.95 856.64,132.14 859.12,132.33 861.53,132.52 863.87,132.73 866.15,132.94 868.35,133.16 870.49,133.39 872.54,133.62 874.53,133.85 876.43,134.10 878.25,134.35 879.99,134.60 881.65,134.86 883.22,135.13 884.70,135.40 886.10,135.67 887.40,135.95 888.61,136.23 889.73,136.51 890.76,136.80 891.69,137.09 892.53,137.39 893.27,137.68 893.91,137.98 894.46,138.28 894.90,138.58 895.25,138.89 895.50,139.19 895.65,139.50 895.70,139.80" fill="none" stroke="#161616" stroke-width="1.55" stroke-linejoin="round"/>
<path d="M693.9,139.8 V149.9 M895.6999999999999,139.8 V149.9" fill="none" stroke="#161616" stroke-width="1.55" />
<rect x="625.65" y="148.95" width="1.90" height="1.90" fill="#2a2a2a"/>
<rect x="638.85" y="148.95" width="1.90" height="1.90" fill="#2a2a2a"/>
<rect x="650.15" y="148.95" width="1.90" height="1.90" fill="#2a2a2a"/>
<rect x="661.45" y="148.95" width="1.90" height="1.90" fill="#2a2a2a"/>
<rect x="672.75" y="148.95" width="1.90" height="1.90" fill="#2a2a2a"/>
<rect x="685.85" y="148.95" width="1.90" height="1.90" fill="#2a2a2a"/>
<rect x="715.85" y="148.95" width="1.90" height="1.90" fill="#2a2a2a"/>
<rect x="730.65" y="148.95" width="1.90" height="1.90" fill="#2a2a2a"/>
<rect x="741.75" y="148.95" width="1.90" height="1.90" fill="#2a2a2a"/>
<rect x="752.95" y="148.95" width="1.90" height="1.90" fill="#2a2a2a"/>
<rect x="764.25" y="148.95" width="1.90" height="1.90" fill="#2a2a2a"/>
<rect x="778.55" y="148.95" width="1.90" height="1.90" fill="#2a2a2a"/>
<polygon points="732.20,150.30 732.27,150.03 732.49,149.77 732.84,149.53 733.33,149.30 733.93,149.10 734.63,148.92 735.42,148.79 736.28,148.68 737.18,148.62 738.10,148.60 739.02,148.62 739.92,148.68 740.78,148.79 741.57,148.92 742.27,149.10 742.87,149.30 743.36,149.53 743.71,149.77 743.93,150.03 744.00,150.30 744.00,160.60 743.93,160.87 743.71,161.13 743.36,161.37 742.87,161.60 742.27,161.80 741.57,161.98 740.78,162.11 739.92,162.22 739.02,162.28 738.10,162.30 737.18,162.28 736.28,162.22 735.42,162.11 734.63,161.98 733.93,161.80 733.33,161.60 732.84,161.37 732.49,161.13 732.27,160.87 732.20,160.60" fill="#fff" stroke="#161616" stroke-width="1.55" stroke-linejoin="round"/>
<polyline points="732.20,160.60 732.27,160.33 732.49,160.07 732.84,159.83 733.33,159.60 733.93,159.40 734.63,159.22 735.42,159.09 736.28,158.98 737.18,158.92 738.10,158.90 739.02,158.92 739.92,158.98 740.78,159.09 741.57,159.22 742.27,159.40 742.87,159.60 743.36,159.83 743.71,160.07 743.93,160.33 744.00,160.60" fill="none" stroke="#161616" stroke-width="1.2" stroke-linejoin="round"/>
<polygon points="845.50,150.30 845.57,150.03 845.79,149.77 846.14,149.53 846.63,149.30 847.23,149.10 847.93,148.92 848.72,148.79 849.58,148.68 850.48,148.62 851.40,148.60 852.32,148.62 853.22,148.68 854.08,148.79 854.87,148.92 855.57,149.10 856.17,149.30 856.66,149.53 857.01,149.77 857.23,150.03 857.30,150.30 857.30,160.60 857.23,160.87 857.01,161.13 856.66,161.37 856.17,161.60 855.57,161.80 854.87,161.98 854.08,162.11 853.22,162.22 852.32,162.28 851.40,162.30 850.48,162.28 849.58,162.22 848.72,162.11 847.93,161.98 847.23,161.80 846.63,161.60 846.14,161.37 845.79,161.13 845.57,160.87 845.50,160.60" fill="#fff" stroke="#161616" stroke-width="1.55" stroke-linejoin="round"/>
<polyline points="845.50,160.60 845.57,160.33 845.79,160.07 846.14,159.83 846.63,159.60 847.23,159.40 847.93,159.22 848.72,159.09 849.58,158.98 850.48,158.92 851.40,158.90 852.32,158.92 853.22,158.98 854.08,159.09 854.87,159.22 855.57,159.40 856.17,159.60 856.66,159.83 857.01,160.07 857.23,160.33 857.30,160.60" fill="none" stroke="#161616" stroke-width="1.2" stroke-linejoin="round"/>
<polygon points="787.50,150.40 787.59,150.18 787.86,149.97 788.30,149.76 788.90,149.58 789.65,149.41 790.53,149.27 791.51,149.15 792.58,149.07 793.70,149.02 794.85,149.00 796.00,149.02 797.12,149.07 798.19,149.15 799.17,149.27 800.05,149.41 800.80,149.58 801.40,149.76 801.84,149.97 802.11,150.18 802.20,150.40 802.20,235.00 802.20,257.30 802.20,322.00 787.50,322.00 787.50,250.00 787.50,227.70" fill="#fff" stroke="none"/>
<polyline points="787.50,150.40 787.59,150.18 787.86,149.97 788.30,149.76 788.90,149.58 789.65,149.41 790.53,149.27 791.51,149.15 792.58,149.07 793.70,149.02 794.85,149.00 796.00,149.02 797.12,149.07 798.19,149.15 799.17,149.27 800.05,149.41 800.80,149.58 801.40,149.76 801.84,149.97 802.11,150.18 802.20,150.40" fill="none" stroke="#161616" stroke-width="1.55" stroke-linejoin="round"/>
<path d="M787.5,150.4 V227.7 M802.2,150.4 V235 M787.5,250 V322 M802.2,257.3 V322" fill="none" stroke="#161616" stroke-width="1.55" />
<polyline points="787.50,310.90 787.59,310.65 787.86,310.41 788.30,310.17 788.90,309.96 789.65,309.77 790.53,309.61 791.51,309.47 792.58,309.38 793.70,309.32 794.85,309.30 796.00,309.32 797.12,309.38 798.19,309.47 799.17,309.61 800.05,309.77 800.80,309.96 801.40,310.17 801.84,310.41 802.11,310.65 802.20,310.90" fill="none" stroke="#161616" stroke-width="1.4" stroke-linejoin="round"/>
<path d="M747,213.8 L843.2,261 M747,224.8 L843.2,272" fill="none" stroke="#a8a8a8" stroke-width="1.3" />
<polygon points="784.20,323.40 784.33,323.10 784.72,322.81 785.36,322.54 786.23,322.28 787.32,322.06 788.59,321.86 790.02,321.71 791.56,321.59 793.18,321.52 794.85,321.50 796.52,321.52 798.14,321.59 799.68,321.71 801.11,321.86 802.38,322.06 803.47,322.28 804.34,322.54 804.98,322.81 805.37,323.10 805.50,323.40 805.50,372.60 805.37,372.90 804.98,373.19 804.34,373.46 803.47,373.72 802.38,373.94 801.11,374.14 799.68,374.29 798.14,374.41 796.52,374.48 794.85,374.50 793.18,374.48 791.56,374.41 790.02,374.29 788.59,374.14 787.32,373.94 786.23,373.72 785.36,373.46 784.72,373.19 784.33,372.90 784.20,372.60" fill="#fff" stroke="#161616" stroke-width="1.55" stroke-linejoin="round"/>
<rect x="679.35" y="366.15" width="1.90" height="1.90" fill="#2a2a2a"/>
<rect x="690.45" y="368.05" width="1.90" height="1.90" fill="#2a2a2a"/>
<rect x="701.65" y="369.85" width="1.90" height="1.90" fill="#2a2a2a"/>
<rect x="712.55" y="371.85" width="1.90" height="1.90" fill="#2a2a2a"/>
<rect x="723.65" y="373.35" width="1.90" height="1.90" fill="#2a2a2a"/>
<rect x="734.85" y="375.45" width="1.90" height="1.90" fill="#2a2a2a"/>
<rect x="677.24" y="378.25" width="2.10" height="2.10" fill="#111"/>
<rect x="675.44" y="389.15" width="2.10" height="2.10" fill="#111"/>
<rect x="673.57" y="400.45" width="2.10" height="2.10" fill="#111"/>
<rect x="671.78" y="411.35" width="2.10" height="2.10" fill="#111"/>
<rect x="669.83" y="423.15" width="2.10" height="2.10" fill="#111"/>
<rect x="660.79" y="477.95" width="2.10" height="2.10" fill="#111"/>
<rect x="658.84" y="489.75" width="2.10" height="2.10" fill="#111"/>
<rect x="657.04" y="500.65" width="2.10" height="2.10" fill="#111"/>
<rect x="655.18" y="511.91" width="2.10" height="2.10" fill="#111"/>
<rect x="653.33" y="523.15" width="2.10" height="2.10" fill="#111"/>
<rect x="651.38" y="534.95" width="2.10" height="2.10" fill="#111"/>
<rect x="662.45" y="536.85" width="1.90" height="1.90" fill="#2a2a2a"/>
<rect x="673.95" y="538.95" width="1.90" height="1.90" fill="#2a2a2a"/>
<rect x="684.65" y="540.75" width="1.90" height="1.90" fill="#2a2a2a"/>
<rect x="696.15" y="542.35" width="1.90" height="1.90" fill="#2a2a2a"/>
<rect x="707.15" y="544.35" width="1.90" height="1.90" fill="#2a2a2a"/>
<rect x="484.95" y="372.45" width="1.90" height="1.90" fill="#2a2a2a"/>
<rect x="498.55" y="372.45" width="1.90" height="1.90" fill="#2a2a2a"/>
<rect x="509.95" y="372.45" width="1.90" height="1.90" fill="#2a2a2a"/>
<rect x="521.35" y="372.45" width="1.90" height="1.90" fill="#2a2a2a"/>
<rect x="532.25" y="372.45" width="1.90" height="1.90" fill="#2a2a2a"/>
<rect x="543.55" y="372.45" width="1.90" height="1.90" fill="#2a2a2a"/>
<rect x="554.95" y="372.45" width="1.90" height="1.90" fill="#2a2a2a"/>
<rect x="566.05" y="372.45" width="1.90" height="1.90" fill="#2a2a2a"/>
<rect x="577.45" y="372.45" width="1.90" height="1.90" fill="#2a2a2a"/>
<rect x="588.85" y="372.45" width="1.90" height="1.90" fill="#2a2a2a"/>
<rect x="599.75" y="372.45" width="1.90" height="1.90" fill="#2a2a2a"/>
<rect x="611.05" y="372.45" width="1.90" height="1.90" fill="#2a2a2a"/>
<rect x="622.45" y="372.45" width="1.90" height="1.90" fill="#2a2a2a"/>
<rect x="633.35" y="372.45" width="1.90" height="1.90" fill="#2a2a2a"/>
<rect x="644.75" y="372.45" width="1.90" height="1.90" fill="#2a2a2a"/>
<rect x="658.55" y="372.45" width="1.90" height="1.90" fill="#2a2a2a"/>
<rect x="485.64" y="387.94" width="2.10" height="2.10" fill="#111"/>
<rect x="486.42" y="399.22" width="2.10" height="2.10" fill="#111"/>
<rect x="487.61" y="410.47" width="2.10" height="2.10" fill="#111"/>
<rect x="489.21" y="421.66" width="2.10" height="2.10" fill="#111"/>
<rect x="491.22" y="432.79" width="2.10" height="2.10" fill="#111"/>
<rect x="493.64" y="443.83" width="2.10" height="2.10" fill="#111"/>
<rect x="496.46" y="454.78" width="2.10" height="2.10" fill="#111"/>
<rect x="499.68" y="465.62" width="2.10" height="2.10" fill="#111"/>
<rect x="503.29" y="476.34" width="2.10" height="2.10" fill="#111"/>
<rect x="507.29" y="486.91" width="2.10" height="2.10" fill="#111"/>
<rect x="511.68" y="497.33" width="2.10" height="2.10" fill="#111"/>
<rect x="516.45" y="507.58" width="2.10" height="2.10" fill="#111"/>
<rect x="521.59" y="517.66" width="2.10" height="2.10" fill="#111"/>
<rect x="527.09" y="527.53" width="2.10" height="2.10" fill="#111"/>
<rect x="532.95" y="537.20" width="2.10" height="2.10" fill="#111"/>
<rect x="539.16" y="546.65" width="2.10" height="2.10" fill="#111"/>
<rect x="545.72" y="555.86" width="2.10" height="2.10" fill="#111"/>
<rect x="552.60" y="564.83" width="2.10" height="2.10" fill="#111"/>
<rect x="562.64" y="576.77" width="2.10" height="2.10" fill="#111"/>
<rect x="590.10" y="604.17" width="2.10" height="2.10" fill="#111"/>
<rect x="601.92" y="614.05" width="2.10" height="2.10" fill="#111"/>
<rect x="610.88" y="620.91" width="2.10" height="2.10" fill="#111"/>
<rect x="620.09" y="627.43" width="2.10" height="2.10" fill="#111"/>
<rect x="629.53" y="633.62" width="2.10" height="2.10" fill="#111"/>
<rect x="639.19" y="639.45" width="2.10" height="2.10" fill="#111"/>
<rect x="649.05" y="644.93" width="2.10" height="2.10" fill="#111"/>
<rect x="659.11" y="650.05" width="2.10" height="2.10" fill="#111"/>
<rect x="669.35" y="654.79" width="2.10" height="2.10" fill="#111"/>
<rect x="679.76" y="659.15" width="2.10" height="2.10" fill="#111"/>
<rect x="690.32" y="663.14" width="2.10" height="2.10" fill="#111"/>
<rect x="701.02" y="666.73" width="2.10" height="2.10" fill="#111"/>
<rect x="711.84" y="669.93" width="2.10" height="2.10" fill="#111"/>
<rect x="722.77" y="672.73" width="2.10" height="2.10" fill="#111"/>
<rect x="733.80" y="675.13" width="2.10" height="2.10" fill="#111"/>
<rect x="744.90" y="677.13" width="2.10" height="2.10" fill="#111"/>
<rect x="756.07" y="678.72" width="2.10" height="2.10" fill="#111"/>
<rect x="767.30" y="679.90" width="2.10" height="2.10" fill="#111"/>
<rect x="778.56" y="680.67" width="2.10" height="2.10" fill="#111"/>
<rect x="793.95" y="681.05" width="2.10" height="2.10" fill="#111"/>
<rect x="793.95" y="620.85" width="1.90" height="1.90" fill="#2a2a2a"/>
<rect x="793.95" y="634.35" width="1.90" height="1.90" fill="#2a2a2a"/>
<rect x="793.95" y="645.45" width="1.90" height="1.90" fill="#2a2a2a"/>
<rect x="793.95" y="656.65" width="1.90" height="1.90" fill="#2a2a2a"/>
<rect x="793.95" y="668.15" width="1.90" height="1.90" fill="#2a2a2a"/>
<rect x="713.45" y="552.85" width="1.90" height="1.90" fill="#2a2a2a"/>
<rect x="711.35" y="564.95" width="1.90" height="1.90" fill="#2a2a2a"/>
<rect x="709.55" y="576.05" width="1.90" height="1.90" fill="#2a2a2a"/>
<rect x="707.75" y="587.05" width="1.90" height="1.90" fill="#2a2a2a"/>
<rect x="705.95" y="599.15" width="1.90" height="1.90" fill="#2a2a2a"/>
<rect x="719.35" y="601.55" width="1.90" height="1.90" fill="#2a2a2a"/>
<rect x="732.55" y="603.55" width="1.90" height="1.90" fill="#2a2a2a"/>
<rect x="777.95" y="610.85" width="1.90" height="1.90" fill="#2a2a2a"/>
<rect x="791.65" y="613.35" width="1.90" height="1.90" fill="#2a2a2a"/>
<rect x="805.25" y="615.45" width="1.90" height="1.90" fill="#2a2a2a"/>
<rect x="807.15" y="603.45" width="1.90" height="1.90" fill="#2a2a2a"/>
<rect x="808.95" y="592.25" width="1.90" height="1.90" fill="#2a2a2a"/>
<rect x="810.75" y="581.05" width="1.90" height="1.90" fill="#2a2a2a"/>
<rect x="812.55" y="569.45" width="1.90" height="1.90" fill="#2a2a2a"/>
<polygon points="743.07,377.73 743.14,377.54 743.28,377.37 743.51,377.21 743.81,377.06 744.18,376.93 744.63,376.81 745.15,376.70 745.75,376.61 746.42,376.53 747.16,376.47 747.97,376.42 748.85,376.38 749.80,376.36 750.82,376.36 751.90,376.37 753.04,376.39 754.25,376.43 755.51,376.48 756.83,376.55 758.21,376.64 759.64,376.73 761.12,376.84 762.65,376.97 764.22,377.11 765.84,377.26 767.51,377.43 769.21,377.60 770.94,377.80 772.71,378.00 774.52,378.22 776.35,378.44 778.20,378.68 780.08,378.93 781.98,379.20 783.89,379.47 785.82,379.75 787.76,380.04 789.71,380.34 791.66,380.65 793.61,380.97 795.56,381.29 797.51,381.62 799.45,381.96 801.38,382.30 803.30,382.65 805.20,383.01 807.08,383.37 808.94,383.73 810.77,384.10 812.58,384.47 814.36,384.84 816.10,385.21 817.81,385.59 819.48,385.96 821.10,386.34 822.69,386.71 824.23,387.08 825.72,387.45 827.15,387.82 828.54,388.19 829.87,388.55 831.14,388.91 832.36,389.26 833.51,389.61 834.60,389.95 835.63,390.29 836.59,390.62 837.48,390.94 838.30,391.25 839.06,391.56 839.74,391.86 840.35,392.14 840.89,392.42 841.35,392.69 841.74,392.95 842.05,393.20 842.28,393.43 842.44,393.66 842.53,393.87 842.53,394.07 814.83,562.72 814.76,562.94 814.60,563.16 814.37,563.36 814.07,563.54 813.69,563.72 813.23,563.87 812.70,564.02 812.10,564.15 811.42,564.26 810.68,564.36 809.86,564.45 808.97,564.52 808.02,564.57 807.00,564.61 805.91,564.63 804.76,564.64 803.55,564.63 802.29,564.61 800.96,564.57 799.58,564.51 798.15,564.44 796.66,564.36 795.13,564.26 793.55,564.14 791.92,564.01 790.26,563.87 788.55,563.71 786.81,563.53 785.04,563.35 783.23,563.15 781.40,562.93 779.54,562.71 777.66,562.47 775.76,562.21 773.85,561.95 771.92,561.68 769.98,561.39 768.03,561.09 766.08,560.79 764.13,560.47 762.18,560.15 760.23,559.81 758.29,559.47 756.36,559.12 754.44,558.76 752.54,558.40 750.66,558.03 748.81,557.66 746.97,557.28 745.17,556.89 743.40,556.51 741.65,556.12 739.95,555.72 738.29,555.33 736.66,554.93 735.08,554.54 733.55,554.14 732.06,553.75 730.63,553.35 729.25,552.96 727.92,552.57 726.65,552.18 725.44,551.80 724.29,551.42 723.21,551.05 722.19,550.68 721.23,550.32 720.35,549.96 719.53,549.61 718.78,549.27 718.10,548.94 717.50,548.61 716.97,548.30 716.51,547.99 716.13,547.69 715.83,547.41 715.60,547.13 715.44,546.87 715.37,546.62 715.37,546.38" fill="#fff" stroke="#161616" stroke-width="1.55" stroke-linejoin="round"/>
<polygon points="814.83,562.72 814.71,563.02 814.46,563.29 814.07,563.54 813.54,563.77 812.89,563.97 812.10,564.15 811.18,564.30 810.14,564.42 808.97,564.52 807.68,564.58 806.28,564.63 804.76,564.64 803.14,564.62 801.41,564.58 799.58,564.51 797.66,564.42 795.64,564.29 793.55,564.14 791.37,563.96 789.12,563.76 786.81,563.53 784.44,563.28 782.02,563.00 779.54,562.71 777.03,562.38 774.49,562.04 771.92,561.68 769.33,561.29 766.73,560.89 764.13,560.47 761.53,560.04 758.93,559.58 756.36,559.12 753.81,558.64 751.29,558.15 748.81,557.66 746.37,557.15 743.98,556.64 741.65,556.12 739.39,555.59 737.20,555.07 735.08,554.54 733.05,554.01 731.10,553.48 729.25,552.96 727.49,552.44 725.84,551.93 724.29,551.42 722.86,550.92 721.54,550.44 720.35,549.96 719.27,549.50 718.32,549.05 717.50,548.61 716.81,548.19 716.25,547.79 715.83,547.41 715.54,547.05 715.38,546.70 715.37,546.38 715.49,546.08 715.74,545.81 716.13,545.56 716.66,545.33 717.31,545.13 718.10,544.95 719.02,544.80 720.06,544.68 721.23,544.58 722.52,544.52 723.92,544.47 725.44,544.46 727.06,544.48 728.79,544.52 730.62,544.59 732.54,544.68 734.56,544.81 736.65,544.96 738.83,545.14 741.08,545.34 743.39,545.57 745.76,545.82 748.18,546.10 750.66,546.39 753.17,546.72 755.71,547.06 758.28,547.42 760.87,547.81 763.47,548.21 766.07,548.63 768.67,549.06 771.27,549.52 773.84,549.98 776.39,550.46 778.91,550.95 781.39,551.44 783.83,551.95 786.22,552.46 788.55,552.98 790.81,553.51 793.00,554.03 795.12,554.56 797.15,555.09 799.10,555.62 800.95,556.14 802.71,556.66 804.36,557.17 805.91,557.68 807.34,558.18 808.66,558.66 809.85,559.14 810.93,559.60 811.88,560.05 812.70,560.49 813.39,560.91 813.95,561.31 814.37,561.69 814.66,562.05 814.82,562.40 814.83,562.72" fill="none" stroke="#161616" stroke-width="1.55" stroke-linejoin="round"/>
<polygon points="736.40,394.40 740.20,395.20 737.90,410.10 734.10,409.30" fill="#fff" stroke="#161616" stroke-width="1.4" stroke-linejoin="round"/>
<polyline points="763.85,377.07 765.28,375.65 766.56,375.12 767.74,375.24 768.91,375.36 770.09,375.49 771.26,375.62 772.44,375.75 773.61,375.89 774.78,376.03 775.95,376.18 777.12,376.33 778.30,376.48 779.47,376.63 780.64,376.79 781.81,376.95 782.97,377.11 784.14,377.28 785.31,377.45 786.48,377.62 787.64,377.80 788.81,377.98 789.98,378.16 791.14,378.34 792.31,378.53 793.47,378.71 794.64,378.91 795.80,379.10 796.97,379.30 798.13,379.50 799.29,379.70 800.45,379.90 801.61,380.11 802.78,380.32 803.94,380.54 805.10,380.75 806.26,380.97 807.42,381.19 808.57,381.42 809.73,381.65 810.89,381.88 812.05,382.11 813.20,382.35 814.36,382.59 815.52,382.84 816.63,383.31 817.75,383.81 818.86,384.34 819.96,384.91 821.05,385.55 822.08,386.56" fill="none" stroke="#161616" stroke-width="1.3" stroke-linejoin="round"/>
<polygon points="786.90,373.00 802.20,373.00 802.20,377.30 802.05,377.65 801.62,377.99 800.91,378.30 799.96,378.57 798.80,378.80 797.48,378.96 796.04,379.07 794.55,379.10 793.06,379.07 791.62,378.96 790.30,378.80 789.14,378.57 788.19,378.30 787.48,377.99 787.05,377.65 786.90,377.30" fill="#fff" stroke="#161616" stroke-width="1.3" stroke-linejoin="round"/>
<polygon points="448.66,659.81 447.75,660.67 446.80,661.48 445.80,662.24 444.76,662.96 443.68,663.62 442.55,664.24 441.38,664.81 440.17,665.33 438.92,665.79 437.62,666.21 436.29,666.57 434.93,666.89 433.52,667.15 432.08,667.36 430.61,667.52 429.10,667.63 427.55,667.68 425.98,667.69 424.37,667.64 422.74,667.54 421.08,667.39 419.39,667.18 417.67,666.93 415.93,666.62 414.16,666.26 412.37,665.85 410.56,665.39 408.73,664.88 406.88,664.32 405.02,663.71 403.13,663.05 401.24,662.34 399.32,661.58 397.40,660.78 395.46,659.92 393.52,659.02 391.56,658.08 389.60,657.09 387.64,656.05 385.66,654.97 383.69,653.85 381.71,652.69 379.74,651.48 377.76,650.23 375.79,648.94 373.82,647.62 371.85,646.25 369.89,644.85 367.94,643.41 366.00,641.94 364.07,640.43 362.15,638.89 360.24,637.31 358.35,635.71 356.47,634.07 354.61,632.41 352.77,630.72 350.95,629.00 349.15,627.25 347.37,625.48 345.61,623.69 343.88,621.88 342.17,620.04 340.49,618.19 338.84,616.32 337.21,614.43 335.62,612.53 334.06,610.61 332.53,608.68 331.03,606.73 329.57,604.78 328.14,602.82 326.75,600.85 325.40,598.87 324.08,596.89 322.81,594.91 321.57,592.92 320.37,590.94 319.22,588.95 318.11,586.97 317.04,584.98 316.02,583.01 315.04,581.04 314.10,579.08 313.21,577.12 312.37,575.18 311.57,573.24 310.83,571.32 310.13,569.42 309.48,567.53 308.88,565.65 308.32,563.80 307.82,561.96 307.37,560.14 306.97,558.35 306.62,556.58 306.32,554.83 306.07,553.11 305.87,551.41 305.73,549.74 305.63,548.10 305.59,546.50 305.60,544.92 305.66,543.37 305.78,541.86 305.94,540.38 306.16,538.94 306.43,537.53 306.74,536.16 307.11,534.83 307.54,533.53 308.01,532.28 308.53,531.07 309.10,529.90 309.72,528.77 310.39,527.68 311.10,526.64 311.87,525.65 312.68,524.70 313.54,523.79 320.30,517.04 321.21,516.18 322.16,515.37 323.16,514.61 324.20,513.89 325.28,513.23 326.41,512.61 327.58,512.04 328.79,511.52 330.04,511.06 331.34,510.64 332.67,510.28 334.03,509.96 335.44,509.70 336.88,509.49 338.35,509.33 339.86,509.22 341.41,509.17 342.98,509.16 344.59,509.21 346.22,509.31 347.88,509.46 349.57,509.67 351.29,509.92 353.03,510.23 354.80,510.59 356.59,511.00 358.40,511.46 360.23,511.97 362.08,512.53 363.94,513.14 365.83,513.80 367.72,514.51 369.64,515.27 371.56,516.07 373.50,516.93 375.44,517.83 377.40,518.77 379.36,519.76 381.32,520.80 383.30,521.88 385.27,523.00 387.25,524.16 389.22,525.37 391.20,526.62 393.17,527.91 395.14,529.23 397.11,530.60 399.07,532.00 401.02,533.44 402.96,534.91 404.89,536.42 406.81,537.96 408.72,539.54 410.61,541.14 412.49,542.78 414.35,544.44 416.19,546.13 418.01,547.85 419.81,549.60 421.59,551.37 423.35,553.16 425.08,554.97 426.79,556.81 428.47,558.66 430.12,560.53 431.75,562.42 433.34,564.32 434.90,566.24 436.43,568.17 437.93,570.12 439.39,572.07 440.82,574.03 442.21,576.00 443.56,577.98 444.88,579.96 446.15,581.94 447.39,583.93 448.59,585.91 449.74,587.90 450.85,589.88 451.92,591.87 452.94,593.84 453.92,595.81 454.86,597.77 455.75,599.73 456.59,601.67 457.39,603.61 458.13,605.53 458.83,607.43 459.48,609.32 460.08,611.20 460.64,613.05 461.14,614.89 461.59,616.71 461.99,618.50 462.34,620.27 462.64,622.02 462.89,623.74 463.09,625.44 463.23,627.11 463.33,628.75 463.37,630.35 463.36,631.93 463.30,633.48 463.18,634.99 463.02,636.47 462.80,637.91 462.53,639.32 462.22,640.69 461.85,642.02 461.42,643.32 460.95,644.57 460.43,645.78 459.86,646.95 459.24,648.08 458.57,649.17 457.86,650.21 457.09,651.20 456.28,652.15 455.42,653.06" fill="#fff" stroke="#2a2a2a" stroke-width="1.65" stroke-linejoin="round"/>
<polygon points="448.60,659.87 447.22,661.13 445.73,662.29 444.15,663.34 442.47,664.28 440.70,665.11 438.83,665.82 436.88,666.42 434.84,666.91 432.71,667.28 430.51,667.53 428.23,667.67 425.87,667.69 423.45,667.59 420.97,667.37 418.42,667.04 415.81,666.60 413.15,666.03 410.44,665.36 407.69,664.57 404.89,663.67 402.06,662.65 399.20,661.53 396.31,660.30 393.39,658.96 390.46,657.53 387.51,655.98 384.55,654.35 381.58,652.61 378.62,650.78 375.66,648.86 372.71,646.85 369.77,644.76 366.84,642.58 363.94,640.33 361.07,638.00 358.23,635.60 355.42,633.13 352.65,630.60 349.93,628.01 347.25,625.37 344.63,622.67 342.06,619.92 339.55,617.13 337.11,614.31 334.73,611.44 332.43,608.55 330.20,605.63 328.05,602.69 325.98,599.73 324.00,596.76 322.10,593.79 320.30,590.81 318.59,587.83 316.97,584.86 315.46,581.89 314.04,578.95 312.73,576.02 311.52,573.12 310.43,570.24 309.44,567.40 308.56,564.60 307.79,561.84 307.14,559.13 306.60,556.46 306.17,553.85 305.86,551.30 305.67,548.81 305.59,546.39 305.63,544.04 305.79,541.76 306.06,539.56 306.45,537.44 306.95,535.40 307.56,533.45 308.29,531.59 309.14,529.82 310.09,528.15 311.15,526.58 312.32,525.10 313.60,523.73 314.98,522.47 316.47,521.31 318.05,520.26 319.73,519.32 321.50,518.49 323.37,517.78 325.32,517.18 327.36,516.69 329.49,516.32 331.69,516.07 333.97,515.93 336.33,515.91 338.75,516.01 341.23,516.23 343.78,516.56 346.39,517.00 349.05,517.57 351.76,518.24 354.51,519.03 357.31,519.93 360.14,520.95 363.00,522.07 365.89,523.30 368.81,524.64 371.74,526.07 374.69,527.62 377.65,529.25 380.62,530.99 383.58,532.82 386.54,534.74 389.49,536.75 392.43,538.84 395.36,541.02 398.26,543.27 401.13,545.60 403.97,548.00 406.78,550.47 409.55,553.00 412.27,555.59 414.95,558.23 417.57,560.93 420.14,563.68 422.65,566.47 425.09,569.29 427.47,572.16 429.77,575.05 432.00,577.97 434.15,580.91 436.22,583.87 438.20,586.84 440.10,589.81 441.90,592.79 443.61,595.77 445.23,598.74 446.74,601.71 448.16,604.65 449.47,607.58 450.68,610.48 451.77,613.36 452.76,616.20 453.64,619.00 454.41,621.76 455.06,624.47 455.60,627.14 456.03,629.75 456.34,632.30 456.53,634.79 456.61,637.21 456.57,639.56 456.41,641.84 456.14,644.04 455.75,646.16 455.25,648.20 454.64,650.15 453.91,652.01 453.06,653.78 452.11,655.45 451.05,657.02 449.88,658.50 448.60,659.87" fill="#fff" stroke="#2a2a2a" stroke-width="1.65" stroke-linejoin="round"/>
<polygon points="344.88,600.49 344.57,600.75 344.21,600.96 343.80,601.09 343.34,601.15 342.85,601.15 342.34,601.07 341.80,600.92 341.26,600.71 340.72,600.43 340.18,600.09 339.67,599.70 339.18,599.27 338.73,598.79 338.33,598.29 337.97,597.76 337.68,597.22 337.44,596.68 337.27,596.14 337.17,595.61 337.14,595.11 337.18,594.65 337.29,594.22 337.47,593.84 337.72,593.51 341.92,589.01 342.23,588.75 342.59,588.54 343.00,588.41 343.46,588.35 343.95,588.35 344.46,588.43 345.00,588.58 345.54,588.79 346.08,589.07 346.62,589.41 347.13,589.80 347.62,590.23 348.07,590.71 348.47,591.21 348.83,591.74 349.12,592.28 349.36,592.82 349.53,593.36 349.63,593.89 349.66,594.39 349.62,594.85 349.51,595.28 349.33,595.66 349.08,595.99" fill="#fff" stroke="#2a2a2a" stroke-width="1.3" stroke-linejoin="round"/>
<polygon points="344.84,600.54 344.30,600.91 343.64,601.12 342.87,601.15 342.04,600.99 341.17,600.67 340.31,600.18 339.49,599.55 338.75,598.81 338.12,597.99 337.63,597.13 337.31,596.26 337.15,595.43 337.18,594.66 337.39,594.00 337.76,593.46 338.30,593.09 338.96,592.88 339.73,592.85 340.56,593.01 341.43,593.33 342.29,593.82 343.11,594.45 343.85,595.19 344.48,596.01 344.97,596.87 345.29,597.74 345.45,598.57 345.42,599.34 345.21,600.00 344.84,600.54" fill="none" stroke="#2a2a2a" stroke-width="1.3" stroke-linejoin="round"/>
<polygon points="414.28,600.49 413.97,600.75 413.61,600.96 413.20,601.09 412.74,601.15 412.25,601.15 411.74,601.07 411.20,600.92 410.66,600.71 410.12,600.43 409.58,600.09 409.07,599.70 408.58,599.27 408.13,598.79 407.73,598.29 407.37,597.76 407.08,597.22 406.84,596.68 406.67,596.14 406.57,595.61 406.54,595.11 406.58,594.65 406.69,594.22 406.87,593.84 407.12,593.51 411.32,589.01 411.63,588.75 411.99,588.54 412.40,588.41 412.86,588.35 413.35,588.35 413.86,588.43 414.40,588.58 414.94,588.79 415.48,589.07 416.02,589.41 416.53,589.80 417.02,590.23 417.47,590.71 417.87,591.21 418.23,591.74 418.52,592.28 418.76,592.82 418.93,593.36 419.03,593.89 419.06,594.39 419.02,594.85 418.91,595.28 418.73,595.66 418.48,595.99" fill="#fff" stroke="#2a2a2a" stroke-width="1.3" stroke-linejoin="round"/>
<polygon points="414.24,600.54 413.70,600.91 413.04,601.12 412.27,601.15 411.44,600.99 410.57,600.67 409.71,600.18 408.89,599.55 408.15,598.81 407.52,597.99 407.03,597.13 406.71,596.26 406.55,595.43 406.58,594.66 406.79,594.00 407.16,593.46 407.70,593.09 408.36,592.88 409.13,592.85 409.96,593.01 410.83,593.33 411.69,593.82 412.51,594.45 413.25,595.19 413.88,596.01 414.37,596.87 414.69,597.74 414.85,598.57 414.82,599.34 414.61,600.00 414.24,600.54" fill="none" stroke="#2a2a2a" stroke-width="1.3" stroke-linejoin="round"/>
<rect x="371.9" y="640" width="14.2" height="52" fill="#fff"/>
<path d="M371.9,640 V692.3 M386.1,640 V692.3" fill="none" stroke="#2a2a2a" stroke-width="1.65" />
<polyline points="386.10,653.60 385.96,653.83 385.56,654.06 384.90,654.27 384.02,654.45 382.94,654.60 381.72,654.71 380.39,654.78 379.00,654.80 377.61,654.78 376.28,654.71 375.06,654.60 373.98,654.45 373.10,654.27 372.44,654.06 372.04,653.83 371.90,653.60" fill="none" stroke="#2a2a2a" stroke-width="1.3" stroke-linejoin="round"/>
<polygon points="369.30,593.80 369.49,593.60 370.05,593.42 370.97,593.24 372.20,593.09 373.70,592.97 375.41,592.88 377.27,592.82 379.20,592.80 381.13,592.82 382.99,592.88 384.70,592.97 386.20,593.09 387.43,593.24 388.35,593.42 388.91,593.60 389.10,593.80 389.10,640.60 388.91,640.87 388.35,641.14 387.43,641.38 386.20,641.59 384.70,641.76 382.99,641.89 381.13,641.97 379.20,642.00 377.27,641.97 375.41,641.89 373.70,641.76 372.20,641.59 370.97,641.38 370.05,641.14 369.49,640.87 369.30,640.60" fill="#fff" stroke="#2a2a2a" stroke-width="1.65" stroke-linejoin="round"/>
<polyline points="369.80,593.50 370.10,589.30 371.50,586.90 374.30,584.10 376.00,583.30 378.40,583.80 381.20,585.20 384.60,588.30 388.80,592.80" fill="none" stroke="#2a2a2a" stroke-width="1.35" stroke-linejoin="round"/>
<polyline points="375.00,585.20 378.40,585.60 381.20,586.90 387.40,592.40" fill="none" stroke="#2a2a2a" stroke-width="1.15" stroke-linejoin="round"/>
<polyline points="370.80,590.40 372.20,591.80 375.00,592.30 377.70,592.10" fill="none" stroke="#2a2a2a" stroke-width="1.15" stroke-linejoin="round"/>
<polyline points="389.10,593.80 389.02,593.93 388.76,594.06 388.35,594.18 387.77,594.30 387.05,594.41 386.20,594.51 385.23,594.59 384.15,594.67 382.99,594.72 381.76,594.77 380.49,594.79 379.20,594.80 377.91,594.79 376.64,594.77 375.41,594.72 374.25,594.67 373.17,594.59 372.20,594.51 371.35,594.41 370.63,594.30 370.05,594.18 369.64,594.06 369.38,593.93 369.30,593.80" fill="none" stroke="#2a2a2a" stroke-width="1.2" stroke-linejoin="round"/>
<text transform="translate(265.31,736.75) scale(1,1.0)" font-size="25.5" fill="#0d0d0d" stroke="#0d0d0d" stroke-width="0.35" >Hang Straight Option</text>
<text x="151.83" y="492.63" font-size="27.0" fill="#0d0d0d" stroke="#0d0d0d" stroke-width="0.35" textLength="52.59" lengthAdjust="spacingAndGlyphs">330°</text>
<text transform="translate(555.33,602.16) scale(1,1.05)" font-size="27.5" fill="#0d0d0d" stroke="#0d0d0d" stroke-width="0.35" >90°</text>
<text transform="translate(782.30,91.16) scale(1,1.05)" font-size="27.5" fill="#0d0d0d" stroke="#0d0d0d" stroke-width="0.35" >5</text>
<polygon points="798.95,71.40 802.05,71.40 801.35,78.10 799.65,78.10" fill="#0d0d0d" stroke="#0d0d0d" stroke-width="0.3" stroke-linejoin="round"/>
<polygon points="802.95,71.40 806.05,71.40 805.35,78.10 803.65,78.10" fill="#0d0d0d" stroke="#0d0d0d" stroke-width="0.3" stroke-linejoin="round"/>
<text transform="translate(695.89,240.55) scale(1,1.05)" font-size="27.5" fill="#0d0d0d" stroke="#0d0d0d" stroke-width="0.35" >4</text>
<polygon points="713.85,220.70 716.95,220.70 716.25,227.40 714.55,227.40" fill="#0d0d0d" stroke="#0d0d0d" stroke-width="0.3" stroke-linejoin="round"/>
<polygon points="717.85,220.70 720.95,220.70 720.25,227.40 718.55,227.40" fill="#0d0d0d" stroke="#0d0d0d" stroke-width="0.3" stroke-linejoin="round"/>
<text transform="translate(722.59,240.55) scale(1,1.05)" font-size="26" fill="#0d0d0d" stroke="#0d0d0d" stroke-width="0.35" >±</text>
<polygon points="647.73,93.54 647.73,113.17 645.13,113.17 645.13,98.75 644.32,99.45 640.42,100.75 640.42,98.45 643.72,96.85 645.73,94.74 646.43,93.54" fill="#0d0d0d"/>
<rect x="637.40" y="116.05" width="14.30" height="1.52" fill="#0d0d0d"/>
<text transform="translate(636.79,140.65) scale(1,1.05)" font-size="27.5" fill="#0d0d0d" stroke="#0d0d0d" stroke-width="0.35" >4</text>
<polygon points="653.75,107.70 656.85,107.70 656.15,114.40 654.45,114.40" fill="#0d0d0d" stroke="#0d0d0d" stroke-width="0.3" stroke-linejoin="round"/>
<polygon points="657.75,107.70 660.85,107.70 660.15,114.40 658.45,114.40" fill="#0d0d0d" stroke="#0d0d0d" stroke-width="0.3" stroke-linejoin="round"/>
<polygon points="864.20,338.60 864.20,358.50 861.56,358.50 861.56,343.88 860.75,344.59 856.79,345.91 856.79,343.58 860.14,341.95 862.17,339.82 862.88,338.60" fill="#0d0d0d"/>
<text transform="translate(868.60,344.65) scale(1,1.05)" font-size="27.5" fill="#0d0d0d" stroke="#0d0d0d" stroke-width="0.35" >7</text>
<rect x="870.20" y="347.60" width="13.60" height="1.70" fill="#0d0d0d"/>
<text transform="translate(868.82,372.46) scale(1,1.05)" font-size="27.5" fill="#0d0d0d" stroke="#0d0d0d" stroke-width="0.35" >8</text>
<polygon points="886.25,339.40 889.35,339.40 888.65,346.10 886.95,346.10" fill="#0d0d0d" stroke="#0d0d0d" stroke-width="0.3" stroke-linejoin="round"/>
<polygon points="890.25,339.40 893.35,339.40 892.65,346.10 890.95,346.10" fill="#0d0d0d" stroke="#0d0d0d" stroke-width="0.3" stroke-linejoin="round"/>
<polygon points="932.80,338.90 932.80,358.60 930.19,358.60 930.19,344.13 929.38,344.83 925.46,346.14 925.46,343.83 928.78,342.22 930.79,340.11 931.49,338.90" fill="#0d0d0d"/>
<text transform="translate(938.23,358.66) scale(1,1.05)" font-size="27.5" fill="#0d0d0d" stroke="#0d0d0d" stroke-width="0.35" >0</text>
<text transform="translate(953.05,344.86) scale(1,1.05)" font-size="27.5" fill="#0d0d0d" stroke="#0d0d0d" stroke-width="0.35" >3</text>
<rect x="954.00" y="347.40" width="13.60" height="1.40" fill="#0d0d0d"/>
<text transform="translate(952.72,372.56) scale(1,1.05)" font-size="27.5" fill="#0d0d0d" stroke="#0d0d0d" stroke-width="0.35" >8</text>
<polygon points="969.65,339.30 972.75,339.30 972.05,346.00 970.35,346.00" fill="#0d0d0d" stroke="#0d0d0d" stroke-width="0.3" stroke-linejoin="round"/>
<polygon points="973.65,339.30 976.75,339.30 976.05,346.00 974.35,346.00" fill="#0d0d0d" stroke="#0d0d0d" stroke-width="0.3" stroke-linejoin="round"/>
<text transform="translate(978.79,358.95) scale(1,1.05)" font-size="26" fill="#0d0d0d" stroke="#0d0d0d" stroke-width="0.35" >±</text>
<text transform="translate(646.09,461.35) scale(1,1.05)" font-size="27.5" fill="#0d0d0d" stroke="#0d0d0d" stroke-width="0.35" >4</text>
<polygon points="672.30,428.80 672.30,448.50 669.69,448.50 669.69,434.03 668.88,434.73 664.96,436.04 664.96,433.73 668.28,432.12 670.29,430.01 670.99,428.80" fill="#0d0d0d"/>
<rect x="662.20" y="451.00" width="14.00" height="1.20" fill="#0d0d0d"/>
<text transform="translate(661.69,475.15) scale(1,1.05)" font-size="27.5" fill="#0d0d0d" stroke="#0d0d0d" stroke-width="0.35" >4</text>
<polygon points="678.35,442.10 681.45,442.10 680.75,448.80 679.05,448.80" fill="#0d0d0d" stroke="#0d0d0d" stroke-width="0.3" stroke-linejoin="round"/>
<polygon points="682.35,442.10 685.45,442.10 684.75,448.80 683.05,448.80" fill="#0d0d0d" stroke="#0d0d0d" stroke-width="0.3" stroke-linejoin="round"/>
<text transform="translate(735.92,618.45) scale(1,1.05)" font-size="27.5" fill="#0d0d0d" stroke="#0d0d0d" stroke-width="0.35" >2</text>
<polygon points="762.30,584.80 762.30,604.50 759.69,604.50 759.69,590.03 758.88,590.73 754.96,592.04 754.96,589.72 758.28,588.12 760.29,586.01 760.99,584.80" fill="#0d0d0d"/>
<rect x="752.20" y="607.70" width="13.60" height="1.20" fill="#0d0d0d"/>
<text transform="translate(750.92,631.95) scale(1,1.05)" font-size="27.5" fill="#0d0d0d" stroke="#0d0d0d" stroke-width="0.35" >2</text>
<polygon points="767.75,598.80 770.85,598.80 770.15,605.50 768.45,605.50" fill="#0d0d0d" stroke="#0d0d0d" stroke-width="0.3" stroke-linejoin="round"/>
<polygon points="771.75,598.80 774.85,598.80 774.15,605.50 772.45,605.50" fill="#0d0d0d" stroke="#0d0d0d" stroke-width="0.3" stroke-linejoin="round"/>
</svg></body></html>
